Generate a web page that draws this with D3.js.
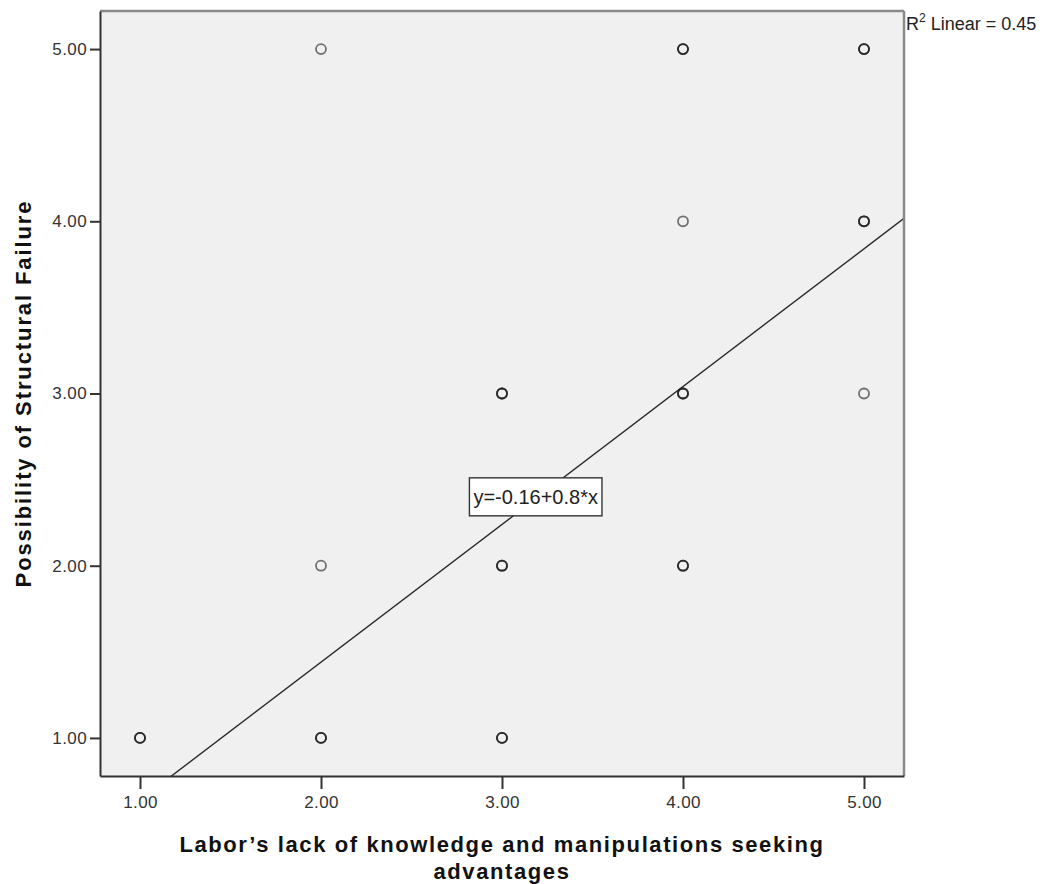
<!DOCTYPE html>
<html>
<head>
<meta charset="utf-8">
<script src="https://cdn.jsdelivr.net/npm/d3@7"></script>
<style>
  body { margin: 0; background: #fff; }
  text { font-family: "Liberation Sans", Arial, sans-serif; }
</style>
</head>
<body>
<div id="chart"></div>
<script>
// observed (x, y) pairs; count = how many respondents share the point
const pointX = [1, 2, 3, 2, 3, 4, 3, 4, 5, 4, 5, 2, 4, 5];
const pointY = [1, 1, 1, 2, 2, 2, 3, 3, 3, 4, 4, 5, 5, 5];
const pointCount = [3, 3, 3, 1, 3, 3, 3, 3, 1, 1, 3, 1, 3, 3];
const tickValues = [1, 2, 3, 4, 5];
const intercept = -0.16;
const slope = 0.8;
const rSquared = 0.45;

const chartWidth = 1045, chartHeight = 884;
const plotLeft = 100, plotRight = 904, plotTop = 11, plotBottom = 776;

const svg = d3.select('#chart')
    .append('svg')
        .attr('width', chartWidth)
        .attr('height', chartHeight);

const x = d3.scaleLinear().domain([0.779, 5.221]).range([plotLeft, plotRight]);
const y = d3.scaleLinear().domain([0.779, 5.221]).range([plotBottom, plotTop]);

// plot background
svg.append('rect')
    .attr('x', plotLeft)
    .attr('y', plotTop)
    .attr('width', plotRight - plotLeft)
    .attr('height', plotBottom - plotTop)
    .attr('fill', '#f0f0f0');

// regression line, clipped to plot
svg.append('clipPath')
    .attr('id', 'plotClip')
  .append('rect')
    .attr('x', plotLeft)
    .attr('y', plotTop)
    .attr('width', plotRight - plotLeft)
    .attr('height', plotBottom - plotTop);

const xs = x.domain();
svg.append('line')
    .attr('clip-path', 'url(#plotClip)')
    .attr('x1', x(xs[0]))
    .attr('y1', y(intercept + slope * xs[0]))
    .attr('x2', x(xs[1]))
    .attr('y2', y(intercept + slope * xs[1]))
    .attr('stroke', '#2a2a2a')
    .attr('stroke-width', 1.4);

// points (overlapping circles darken the heavier ones)
const points = [];
pointX.forEach((px, i) => {
    for (let k = 0; k < pointCount[i]; k++) points.push({ x: px, y: pointY[i] });
});

svg.append('g')
    .selectAll('circle')
    .data(points)
    .join('circle')
        .attr('cx', d => x(d.x))
        .attr('cy', d => y(d.y))
        .attr('r', 5)
        .attr('fill', 'none')
        .attr('stroke', '#1a1a1a')
        .attr('stroke-opacity', 0.6)
        .attr('stroke-width', 1.8);

// frame: top/right lighter, left/bottom darker
svg.append('line')
    .attr('x1', plotLeft).attr('y1', plotTop).attr('x2', plotRight).attr('y2', plotTop)
    .attr('stroke', '#8a8a8a').attr('stroke-width', 2.5);
svg.append('line')
    .attr('x1', plotRight).attr('y1', plotTop).attr('x2', plotRight).attr('y2', plotBottom)
    .attr('stroke', '#8a8a8a').attr('stroke-width', 2.5);

// axes
const xAxis = svg.append('g')
    .attr('transform', `translate(0,${plotBottom})`)
    .call(d3.axisBottom(x).tickValues(tickValues).tickFormat(d3.format('.2f')).tickSize(13).tickSizeOuter(0).tickPadding(7));
const yAxis = svg.append('g')
    .attr('transform', `translate(${plotLeft},0)`)
    .call(d3.axisLeft(y).tickValues(tickValues).tickFormat(d3.format('.2f')).tickSize(10).tickSizeOuter(0).tickPadding(3));

[xAxis, yAxis].forEach(g => {
    g.select('.domain').attr('stroke', '#333').attr('stroke-width', 2);
    g.selectAll('.tick line').attr('stroke', '#333').attr('stroke-width', 2);
    g.selectAll('.tick text')
        .attr('font-family', '"Liberation Sans", Arial, sans-serif')
        .attr('font-size', 17)
        .attr('letter-spacing', 0.4)
        .attr('fill', '#333');
});

// equation label
const eqX = x(2.82), eqY = y(2.40);
const eqBox = svg.append('rect');
const eqText = svg.append('text')
    .attr('x', eqX + 4)
    .attr('y', eqY + 7)
    .attr('font-size', 20)
    .attr('fill', '#222')
    .text(`y=${intercept}+${slope}*x`);
const bb = eqText.node().getBBox();
eqBox
    .attr('x', eqX)
    .attr('y', eqY - 19)
    .attr('width', bb.width + 8)
    .attr('height', 38)
    .attr('fill', '#fff')
    .attr('stroke', '#333')
    .attr('stroke-width', 1.4);

// R² label
const r2 = svg.append('text')
    .attr('x', plotRight + 2)
    .attr('y', 30)
    .attr('font-size', 18)
    .attr('fill', '#222');
r2.append('tspan').text('R');
r2.append('tspan').attr('dy', -8).attr('font-size', 12).text('2');
r2.append('tspan').attr('dy', 8).text(` Linear = ${rSquared}`);

// axis titles
svg.append('text')
    .attr('transform', `translate(31,${(plotTop + plotBottom) / 2}) rotate(-90)`)
    .attr('text-anchor', 'middle')
    .attr('font-size', 22)
    .attr('letter-spacing', 1.9)
    .attr('font-weight', 'bold')
    .attr('fill', '#111')
    .text('Possibility of Structural Failure');

svg.append('text')
    .attr('x', (plotLeft + plotRight) / 2)
    .attr('y', 852)
    .attr('text-anchor', 'middle')
    .attr('font-size', 22)
    .attr('letter-spacing', 1.6)
    .attr('font-weight', 'bold')
    .attr('fill', '#111')
    .text('Labor\u2019s lack of knowledge and manipulations seeking');

svg.append('text')
    .attr('x', (plotLeft + plotRight) / 2)
    .attr('y', 879)
    .attr('text-anchor', 'middle')
    .attr('font-size', 22)
    .attr('letter-spacing', 1.6)
    .attr('font-weight', 'bold')
    .attr('fill', '#111')
    .text('advantages');
</script>
</body>
</html>
